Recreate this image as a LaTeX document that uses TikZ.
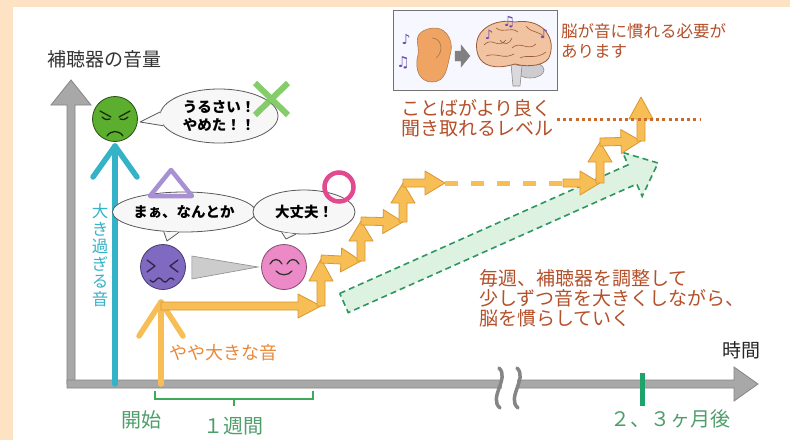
\documentclass[tikz,border=0pt]{standalone}
\usepackage{fontspec}
\setmainfont{Noto Sans CJK JP}
\newfontfamily\notefont{DejaVu Sans}
\usetikzlibrary{calc,shapes.geometric}

\definecolor{peach}{HTML}{FDE2C3}
\definecolor{axisgray}{HTML}{A8A8A8}
\definecolor{axisline}{HTML}{858585}
\definecolor{loudcyan}{HTML}{33B2C8}
\definecolor{stepfill}{HTML}{F7BE55}
\definecolor{stepline}{HTML}{DB9630}
\definecolor{talk}{HTML}{B4502A}
\definecolor{level}{HTML}{C86A2C}
\definecolor{softorange}{HTML}{E8893A}
\definecolor{timegreen}{HTML}{4E9E6C}
\definecolor{brace}{HTML}{3DAA5A}
\definecolor{tick}{HTML}{1FA36A}
\definecolor{bandfill}{HTML}{DDF2E1}
\definecolor{bandline}{HTML}{2E9660}
\definecolor{angry}{HTML}{5BAE2E}
\definecolor{unsure}{HTML}{8069C0}
\definecolor{happy}{HTML}{EC8AC8}
\definecolor{ring}{HTML}{E2498F}
\definecolor{cross}{HTML}{78C85C}
\definecolor{tri}{HTML}{A791D2}
\definecolor{ear}{HTML}{EFA463}
\definecolor{brain}{HTML}{F1C3A0}
\definecolor{brainline}{HTML}{9B5B3A}
\definecolor{note}{HTML}{6A4FB0}

% fat arrow from #2 to #3: shaft half width #4, head half width #5, head length #6
\newcommand\blockarrow[6][]{%
  \coordinate (ba) at ($(#3)!#6!(#2)$);
  \filldraw[#1] ($(#2)!#4!90:(#3)$) -- ($(ba)!#4!90:(#3)$) -- ($(ba)!#5!90:(#3)$)
    -- (#3) -- ($(ba)!#5!-90:(#3)$) -- ($(ba)!#4!-90:(#3)$)
    -- ($(#2)!#4!-90:(#3)$) -- cycle;
}

\begin{document}
\begin{tikzpicture}[x=1pt, y=-1pt,
  txt/.style={inner sep=0pt, font=\fontsize{19}{20}\selectfont},
  bubble/.style={ellipse, draw=black!65, fill=black!3, line width=0.8pt,
                 inner sep=0pt, align=center, font=\fontsize{14.5}{18}\selectfont\bfseries},
  tail/.style={draw=black!65, line width=0.8pt, line join=round},
  face/.style={circle, minimum size=45pt, inner sep=0pt, line width=0.8pt},
  feature/.style={line width=1.3pt, line cap=round, line join=round},
  stair/.style={fill=stepfill, draw=stepline, line width=0.8pt, line join=round},
  axis/.style={fill=axisgray, draw=axisline, line width=0.8pt},
  band/.style={fill=bandfill, draw=bandline, line width=1.6pt, dash pattern=on 6pt off 4pt},
  chev/.style={line width=5.5pt, line cap=round, line join=round}
]
  \useasboundingbox (0,0) rectangle (790,440);
  \fill[peach] (0,0) rectangle (790,440);
  \fill[white] (13,7) rectangle (790,440);

  % axes
  \coordinate (origin) at (71,384);
  \coordinate (ytop)   at (71,80);
  \coordinate (xstart) at (67,384);
  \coordinate (xend)   at (758,384);
  \blockarrow[axis]{origin}{ytop}{4pt}{20pt}{25pt}
  \blockarrow[axis]{xstart}{xend}{4pt}{17pt}{24pt}
  \node[txt, anchor=west, text=black!80] (vol) at (47,59) {補聴器の音量};
  \node[txt, text=black!85] (time) at (741,350) {時間};

  % break in the time axis
  \fill[white] (502,370) rectangle (517,396);
  \draw[axisline, line width=3.5pt, line cap=round] (499,368) .. controls (510,378) and (488,398) .. (500,408);
  \draw[axisline, line width=3.5pt, line cap=round] (517,368) .. controls (528,378) and (506,398) .. (518,408);

  % time marks
  \draw[tick, line width=5pt] (642,373) -- (642,406);
  \draw[brace, line width=2.5pt] (155,391) -- (155,399) -- (313,399) -- (313,391);
  \draw[brace, line width=2.5pt] (234,399) -- (234,406);
  \node[txt, text=timegreen, font=\fontsize{20}{20}\selectfont] (start) at (141,420) {開始};
  \node[txt, text=timegreen, font=\fontsize{20}{20}\selectfont] (week)  at (233,426) {１週間};
  \node[txt, text=timegreen, font=\fontsize{20}{20}\selectfont] (later) at (670,419) {２、３ヶ月後};

  % too loud
  \coordinate (cbase) at (115,384);
  \coordinate (ctip)  at (115,146);
  \draw[chev, loudcyan] (cbase) -- (ctip);
  \draw[chev, loudcyan] ($(ctip)+(-22,31)$) -- (ctip) -- ($(ctip)+(22,31)$);
  \node[txt, text=loudcyan, align=center, font=\fontsize{16.5}{17.5}\selectfont] (loud)
    at (100,255) {大\\き\\過\\ぎ\\る\\音};

  % a little loud
  \coordinate (obase) at (161,384);
  \coordinate (otip)  at (161,302);
  \draw[chev, stepfill] (obase) -- (otip);
  \draw[chev, stepfill] ($(otip)+(-22,34)$) -- (otip) -- ($(otip)+(22,34)$);
  \node[txt, text=softorange, anchor=west, font=\fontsize{18}{20}\selectfont] (soft)
    at (169,353) {やや大きな音};

  % weekly adjustment band
  \coordinate (g0) at (344,303);
  \coordinate (g1) at (658,163);
  \blockarrow[band]{g0}{g1}{10.5pt}{24pt}{28pt}

  % stairs
  \coordinate (s0)  at (161,306);
  \coordinate (s1)  at (321,306);
  \coordinate (s2)  at (321,259);
  \coordinate (s3)  at (361,261);
  \coordinate (s4)  at (361,221);
  \coordinate (s5)  at (403,222);
  \coordinate (s6)  at (403,183);
  \coordinate (s7)  at (445,183);
  \coordinate (s8)  at (563,183);
  \coordinate (s9)  at (600,183);
  \coordinate (s10) at (600,142);
  \coordinate (s11) at (641,141);
  \coordinate (s12) at (641,97);
  \blockarrow[stair]{s0}{s1}{4pt}{12pt}{23pt}
  \blockarrow[stair]{s1}{s2}{4pt}{12pt}{22pt}
  \blockarrow[stair]{s2}{s3}{4pt}{12pt}{20pt}
  \blockarrow[stair]{s3}{s4}{4pt}{12pt}{20pt}
  \blockarrow[stair]{s4}{s5}{4pt}{12pt}{20pt}
  \blockarrow[stair]{s5}{s6}{4pt}{12pt}{20pt}
  \blockarrow[stair]{s6}{s7}{4pt}{12pt}{20pt}
  \draw[stepfill, line width=5pt, dash pattern=on 13pt off 13pt] (s7) -- (s8);
  \blockarrow[stair]{s8}{s9}{4pt}{12pt}{20pt}
  \blockarrow[stair]{s9}{s10}{4pt}{12pt}{20pt}
  \blockarrow[stair]{s10}{s11}{4pt}{12pt}{20pt}
  \blockarrow[stair]{s11}{s12}{4pt}{12pt}{22pt}

  % target level
  \coordinate (lvl0) at (557,119);
  \coordinate (lvl1) at (700,119);
  \draw[level, line width=3pt, dash pattern=on 3pt off 3.2pt] (lvl0) -- (lvl1);
  \node[txt, text=talk, anchor=west, align=left] (clear) at (401,118)
    {ことばがより良く\\聞き取れるレベル};
  \node[txt, text=talk, anchor=west, align=left] (weekly) at (479,298)
    {毎週、補聴器を調整して\\少しずつ音を大きくしながら、\\脳を慣らしていく};

  % ear and brain
  \draw[black!55, fill=blue!3, line width=0.8pt] (393,10) rectangle (557,90);
  \filldraw[fill=ear, draw=ear!75!black, line width=0.6pt]
    (425,30) .. controls (445,22) and (455,40) .. (450,55)
    .. controls (447,68) and (446,82) .. (432,82)
    .. controls (420,82) and (414,70) .. (418,55)
    .. controls (420,45) and (412,36) .. (425,30);
  \draw[ear!70!black, line width=0.6pt] (432,38) .. controls (442,38) and (444,52) .. (436,58);
  \coordinate (e0) at (455,56);
  \coordinate (e1) at (470,56);
  \blockarrow[fill=black!50, draw=black!50]{e0}{e1}{5pt}{11pt}{9pt}
  \draw[fill=blue!10!black!20, draw=black!45, line width=0.6pt] (530,70) ellipse (14 and 8);
  \filldraw[fill=blue!10!black!15, draw=black!45, line width=0.6pt]
    (511,64) -- (513,86) -- (520,86) -- (522,66) -- cycle;
  \filldraw[fill=brain, draw=brainline, line width=0.8pt]
    (478,55) .. controls (470,30) and (495,18) .. (515,22)
    .. controls (540,18) and (556,35) .. (550,55)
    .. controls (548,65) and (530,68) .. (515,64)
    .. controls (495,70) and (482,66) .. (478,55);
  \draw[brainline, line width=0.6pt]
    (484,45) .. controls (492,36) and (498,50) .. (506,40)
    (496,28) .. controls (504,34) and (510,26) .. (518,32)
    (512,48) .. controls (520,40) and (528,52) .. (536,44)
    (526,26) .. controls (532,34) and (540,30) .. (544,38)
    (486,56) .. controls (496,52) and (504,60) .. (514,54)
    (520,58) .. controls (528,54) and (536,60) .. (546,52)
    (500,40) .. controls (504,46) and (510,44) .. (512,38);
  \node[text=note, font=\notefont\fontsize{14}{14}\selectfont, inner sep=0pt] (n1) at (406,39) {♪};
  \node[text=note, font=\notefont\fontsize{15}{15}\selectfont, inner sep=0pt] (n2) at (403,63) {♫};
  \node[text=note, font=\notefont\fontsize{13}{13}\selectfont, inner sep=0pt] (n3) at (489,35) {♪};
  \node[text=note, font=\notefont\fontsize{14}{14}\selectfont, inner sep=0pt] (n4) at (509,22) {♫};
  \node[text=note, font=\notefont\fontsize{13}{13}\selectfont, inner sep=0pt] (n5) at (544,34) {♪};
  \node[txt, text=talk, anchor=west, align=left, font=\fontsize{16.5}{20}\selectfont] (brainnote)
    at (561,41) {脳が音に慣れる必要が\\あります};

  % faces
  \node[face, fill=angry, draw=angry!45!black] (angryface) at (115,119) {};
  \begin{scope}[shift={(angryface)}, feature, draw=angry!25!black]
    \draw (-15,-8) -- (-4,-2);
    \draw (15,-8) -- (4,-2);
    \draw (-13,-2) .. controls (-10,1) and (-7,1) .. (-5,0);
    \draw (13,-2) .. controls (10,1) and (7,1) .. (5,0);
    \draw (-8,17) .. controls (-4,11) and (4,11) .. (8,17);
  \end{scope}
  \node[face, fill=unsure, draw=unsure!55!black] (uneasy) at (163,267) {};
  \begin{scope}[shift={(uneasy)}, feature, draw=unsure!35!black]
    \draw (-16,-7) -- (-8,-1) -- (-16,5);
    \draw (15,-7) -- (7,-1) -- (15,5);
    \draw (-13,13) sin (-10,15) cos (-7,13) sin (-4,11) cos (-1,13)
      sin (2,15) cos (5,13) sin (8,11) cos (11,13);
  \end{scope}
  \node[face, fill=happy, draw=happy!55!black] (smiley) at (284,267) {};
  \begin{scope}[shift={(smiley)}, feature, draw=black!80]
    \draw (-14,-3) .. controls (-11,-9) and (-5,-9) .. (-2,-3);
    \draw (3,-3) .. controls (6,-9) and (12,-9) .. (15,-3);
    \draw (-8,4) .. controls (-4,9) and (4,9) .. (8,4);
  \end{scope}
  \filldraw[fill=black!20, draw=black!45, line width=0.6pt]
    ($(uneasy.east)+(6,-11)$) -- ($(smiley.west)+(-3,0)$) -- ($(uneasy.east)+(6,12)$) -- cycle;

  % speech bubbles
  \node[bubble, minimum width=118pt, minimum height=54pt] (noisy) at (219,116) {うるさい！\\やめた！！};
  \coordinate (noisytail) at (140,122);
  \fill[black!3] (noisy.176) -- (noisytail) -- (noisy.190) -- cycle;
  \draw[tail] (noisy.176) -- (noisytail) -- (noisy.190);
  \draw[cross, line width=6pt, opacity=0.9] (255,83) -- (288,115) (255,115) -- (288,83);

  \node[bubble, minimum width=116pt, minimum height=40pt] (soso) at (184,212) {まぁ、なんとか};
  \coordinate (sosotail) at (167,241);
  \fill[black!3] (soso.224) -- (sosotail) -- (soso.256) -- cycle;
  \draw[tail] (soso.224) -- (sosotail) -- (soso.256);
  \draw[tri, line width=4.5pt, line join=round] (171,170) -- (192,196) -- (150,196) -- cycle;

  \node[bubble, minimum width=102pt, minimum height=44pt] (fine) at (304,212) {大丈夫！};
  \coordinate (finetail) at (286,239);
  \fill[black!3] (fine.222) -- (finetail) -- (fine.250) -- cycle;
  \draw[tail] (fine.222) -- (finetail) -- (fine.250);
  \draw[ring, line width=4.5pt] (339,187) circle (14.5);
\end{tikzpicture}
\end{document}
